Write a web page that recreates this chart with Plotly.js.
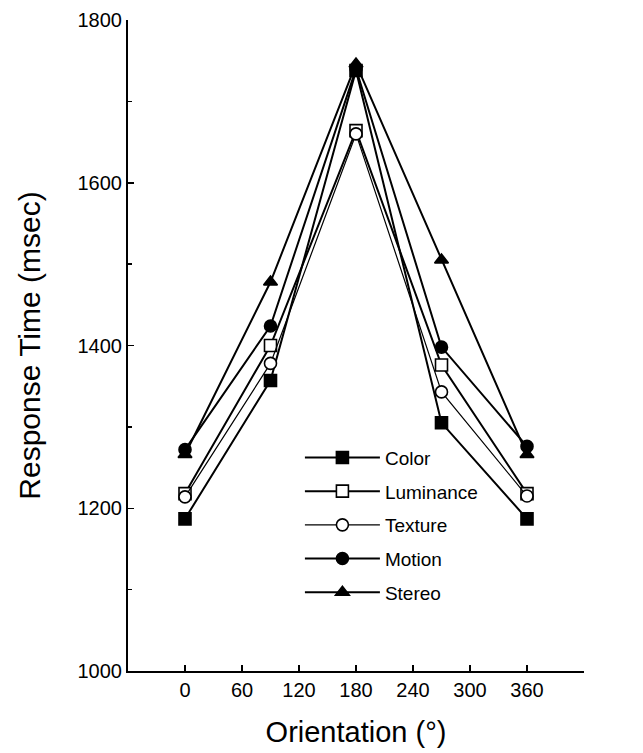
<!DOCTYPE html>
<html>
<head>
<meta charset="utf-8">
<script src="https://cdn.plot.ly/plotly-3.0.1.min.js"></script>
<style>html,body{margin:0;padding:0;background:#fff;}#chart{width:643px;height:753px;}</style>
</head>
<body>
<div id="chart"></div>
<script>
var orientation = [0, 90, 180, 270, 360];
var seriesNames = ['Color', 'Luminance', 'Texture', 'Motion', 'Stereo'];
var color     = [1187, 1357, 1738, 1305, 1187];
var luminance = [1218, 1400, 1664, 1376, 1218];
var texture   = [1214, 1378, 1660, 1343, 1215];
var motion    = [1272, 1424, 1740, 1398, 1276];
var stereo    = [1266, 1478, 1746, 1505, 1266];
var xTickVals = [0, 60, 120, 180, 240, 300, 360, 420];
var xTickText = ['0', '60', '120', '180', '240', '300', '360', ''];
var yTickVals = [1000, 1200, 1400, 1600, 1800];

var values = [color, luminance, texture, motion, stereo];
var symbols = ['square', 'square', 'circle', 'circle', 'triangle-up'];
var fills = ['#000', '#fff', '#fff', '#000', '#000'];
var widths = [2, 2, 1.2, 2, 2];

var traces = seriesNames.map(function (name, i) {
  return {
    x: orientation, y: values[i], name: name, type: 'scatter', mode: 'lines+markers',
    legendgroup: name,
    line: {color: '#000', width: widths[i]},
    marker: {symbol: symbols[i], size: 12, color: fills[i], line: {color: '#000', width: 1.6}}
  };
});

var layout = {
  width: 643, height: 753,
  margin: {l: 128, r: 59, t: 20, b: 82},
  paper_bgcolor: '#fff', plot_bgcolor: '#fff',
  font: {family: 'Liberation Sans, Arial, sans-serif', color: '#000', size: 20},
  showlegend: true,
  legend: {x: 0.377, y: 0.357, xanchor: 'left', yanchor: 'top', bgcolor: 'rgba(0,0,0,0)',
           font: {size: 19}, traceorder: 'grouped', tracegroupgap: 6, itemwidth: 75},
  xaxis: {range: [-60, 420], tickmode: 'array', tickvals: xTickVals, ticktext: xTickText,
          ticks: 'inside', ticklen: 6, tickwidth: 1.5, tickcolor: '#000',
          showline: true, linecolor: '#000', linewidth: 2, showgrid: false, zeroline: false,
          title: {text: 'Orientation (°)', font: {size: 29}, standoff: 22},
          tickfont: {size: 20}},
  yaxis: {range: [1000, 1800], tickmode: 'array', tickvals: yTickVals,
          ticks: 'inside', ticklen: 6, tickwidth: 1.5, tickcolor: '#000',
          minor: {tickmode: 'linear', dtick: 100, ticks: 'inside', ticklen: 4, tickcolor: '#000', showgrid: false},
          showline: true, linecolor: '#000', linewidth: 2, showgrid: false, zeroline: false,
          title: {text: 'Response Time (msec)', font: {size: 30}, standoff: 28},
          tickfont: {size: 20}}
};

Plotly.newPlot('chart', traces, layout, {displayModeBar: false, staticPlot: true});
</script>
</body>
</html>
